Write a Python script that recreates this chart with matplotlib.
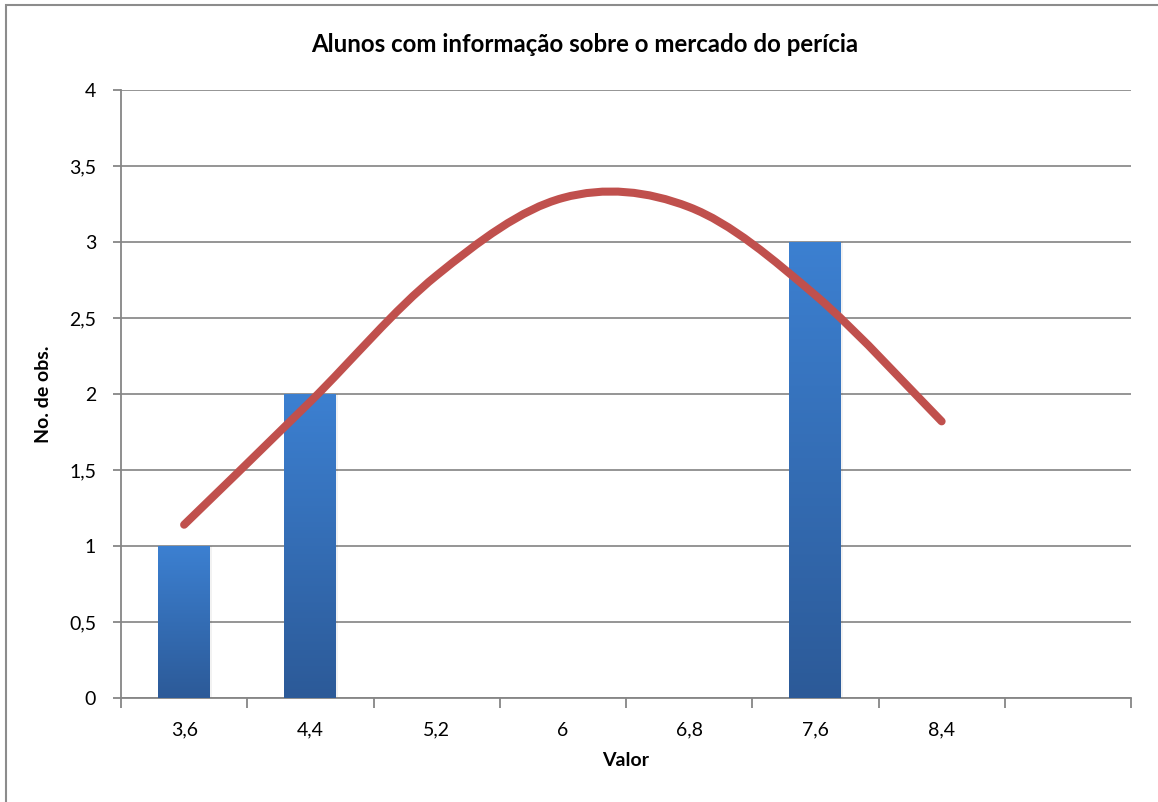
import numpy as np
import matplotlib
matplotlib.use("Agg")
import matplotlib.pyplot as plt
from matplotlib.path import Path
from matplotlib.patches import PathPatch, Rectangle

# Histogram bins (category labels) and observed counts
categories = ["3,6", "4,4", "5,2", "6", "6,8", "7,6", "8,4", ""]
counts = [1, 2, 0, 0, 0, 3, 0, 0]

# Fitted normal curve evaluated at the bin centres 3,6 ... 8,4
curve_values = [1.14, 1.95, 2.78, 3.29, 3.23, 2.65, 1.82]

title = "Alunos com informação sobre o mercado do perícia"
xlabel = "Valor"
ylabel = "No. de obs."

W, H = 1158, 802
fig = plt.figure(figsize=(W / 100, H / 100), dpi=100)
fig.patch.set_facecolor("white")

plt.rcParams["font.family"] = ["Lato", "DejaVu Sans"]

# outer chart frame
fig.add_artist(Rectangle((6 / W, -0.01), 1.02, 1 - 5 / H + 0.01,
                         transform=fig.transFigure, fill=False,
                         edgecolor="#8c8c8c", linewidth=1.5))

left, right, top, bottom = 121, 1131, 90, 698
ax = fig.add_axes([left / W, 1 - bottom / H, (right - left) / W, (bottom - top) / H])

x = np.arange(len(categories))
bar_w = 0.41

# bars with a vertical blue gradient
grad = np.linspace(0, 1, 256)[:, None]
top_col = np.array([0x3c, 0x80, 0xd1]) / 255
bot_col = np.array([0x2c, 0x5a, 0x98]) / 255
for xi, c in zip(x, counts):
    if c <= 0:
        continue
    img = bot_col + (top_col - bot_col) * grad[..., None]
    # soft shadow on the right
    ax.add_patch(Rectangle((xi - bar_w / 2 + 0.015, 0), bar_w, c,
                           facecolor="#000000", alpha=0.05, linewidth=0, zorder=2))
    ax.imshow(img, extent=(xi - bar_w / 2, xi + bar_w / 2, 0, c),
              origin="lower", aspect="auto", zorder=3, interpolation="bilinear")

# smoothed line through the curve points (Catmull-Rom style Bezier segments)
cx = x[:len(curve_values)].astype(float)
cy = np.array(curve_values, dtype=float)
pts = np.column_stack([cx, cy])
verts = [pts[0]]
codes = [Path.MOVETO]
n = len(pts)
for i in range(n - 1):
    p0 = pts[i - 1] if i > 0 else pts[i]
    p1 = pts[i]
    p2 = pts[i + 1]
    p3 = pts[i + 2] if i + 2 < n else pts[i + 1]
    c1 = p1 + (p2 - p0) / 6
    c2 = p2 - (p3 - p1) / 6
    verts += [c1, c2, p2]
    codes += [Path.CURVE4] * 3
ax.add_patch(PathPatch(Path(verts, codes), facecolor="none", edgecolor="#C0504D",
                       linewidth=5.8, capstyle="round", joinstyle="round", zorder=5))

ax.set_xlim(-0.5, len(categories) - 0.5)
ax.set_ylim(0, 4)
ax.set_yticks(np.arange(0, 4.01, 0.5))
ax.set_yticklabels(["0", "0,5", "1", "1,5", "2", "2,5", "3", "3,5", "4"])
ax.set_xticks(x)
ax.set_xticklabels(categories)
ax.set_xticks(np.arange(-0.5, len(categories)), minor=True)

axis_col = "#868686"
for s in ["top", "right"]:
    ax.spines[s].set_visible(False)
for s in ["left", "bottom"]:
    ax.spines[s].set_color(axis_col)
    ax.spines[s].set_linewidth(1.3)
ax.yaxis.grid(True, color="#8c8c8c", linewidth=1.3)
ax.set_axisbelow(True)

tick_fs = 14
ax.tick_params(axis="x", which="major", length=0, pad=17, labelsize=tick_fs, colors="black")
ax.tick_params(axis="x", which="minor", length=7, width=1.3, color=axis_col, direction="out")
ax.tick_params(axis="y", which="major", length=6, width=1.3, color=axis_col,
               direction="out", pad=12, labelsize=tick_fs, labelcolor="black")

ax.set_xlabel(xlabel, fontsize=14, fontweight="bold", labelpad=10)
ax.set_ylabel(ylabel, fontsize=14, fontweight="bold", labelpad=12)
fig.text(584.5 / W, 1 - 45 / H, title, ha="center", va="center",
         fontsize=17.3, fontweight="bold")

fig.savefig("out.png", dpi=100)
